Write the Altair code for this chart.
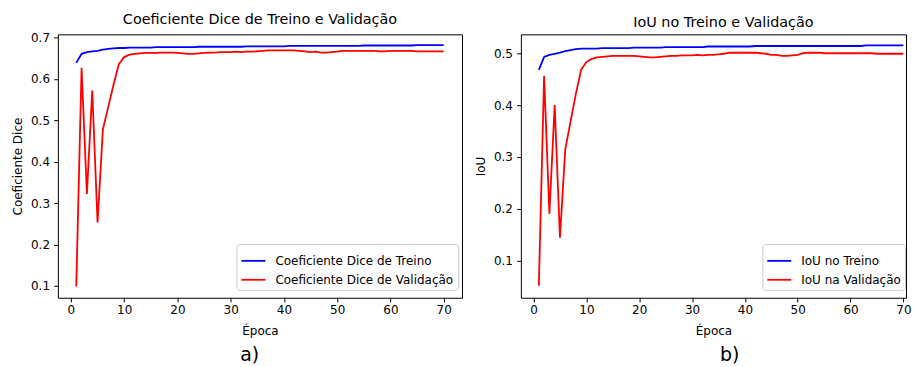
import altair as alt
import pandas as pd

epochs = list(range(1, 71))

dice_train = [
    0.639, 0.661, 0.665, 0.667, 0.668, 0.671, 0.673, 0.674, 0.675, 0.675,
    0.676, 0.676, 0.676, 0.676, 0.676, 0.677, 0.677, 0.677, 0.677, 0.677,
    0.677, 0.677, 0.677, 0.678, 0.678, 0.678, 0.678, 0.678, 0.678, 0.678,
    0.678, 0.678, 0.679, 0.679, 0.679, 0.679, 0.679, 0.679, 0.679, 0.679,
    0.680, 0.680, 0.680, 0.680, 0.680, 0.680, 0.680, 0.680, 0.680, 0.680,
    0.680, 0.680, 0.680, 0.680, 0.681, 0.681, 0.681, 0.681, 0.681, 0.681,
    0.681, 0.681, 0.681, 0.681, 0.682, 0.682, 0.682, 0.682, 0.682, 0.682,
]
dice_val = [
    0.098, 0.627, 0.322, 0.572, 0.253, 0.478, 0.532, 0.586, 0.636, 0.653,
    0.659, 0.661, 0.662, 0.663, 0.663, 0.663, 0.664, 0.664, 0.664, 0.663,
    0.662, 0.661, 0.661, 0.662, 0.663, 0.664, 0.664, 0.665, 0.665, 0.665,
    0.666, 0.665, 0.666, 0.666, 0.667, 0.668, 0.669, 0.669, 0.669, 0.669,
    0.669, 0.669, 0.668, 0.667, 0.665, 0.666, 0.664, 0.664, 0.665, 0.666,
    0.668, 0.668, 0.668, 0.668, 0.668, 0.668, 0.668, 0.667, 0.667, 0.668,
    0.668, 0.668, 0.668, 0.668, 0.667, 0.667, 0.667, 0.667, 0.667, 0.667,
]
iou_train = [
    0.468, 0.493, 0.497, 0.499, 0.501, 0.504, 0.506, 0.508, 0.509, 0.509,
    0.509, 0.509, 0.510, 0.510, 0.510, 0.510, 0.510, 0.510, 0.511, 0.511,
    0.511, 0.511, 0.511, 0.511, 0.512, 0.512, 0.512, 0.512, 0.512, 0.512,
    0.512, 0.512, 0.513, 0.513, 0.513, 0.513, 0.513, 0.513, 0.513, 0.513,
    0.513, 0.514, 0.514, 0.514, 0.514, 0.514, 0.514, 0.514, 0.514, 0.514,
    0.514, 0.514, 0.514, 0.514, 0.514, 0.514, 0.514, 0.514, 0.514, 0.514,
    0.514, 0.514, 0.515, 0.515, 0.515, 0.515, 0.515, 0.515, 0.515, 0.515,
]
iou_val = [
    0.051, 0.456, 0.190, 0.400, 0.144, 0.314, 0.368, 0.421, 0.468, 0.483,
    0.489, 0.492, 0.493, 0.494, 0.495, 0.495, 0.495, 0.495, 0.495, 0.494,
    0.493, 0.492, 0.492, 0.493, 0.494, 0.495, 0.495, 0.496, 0.496, 0.496,
    0.497, 0.496, 0.497, 0.497, 0.498, 0.499, 0.501, 0.501, 0.501, 0.501,
    0.501, 0.501, 0.500, 0.499, 0.497, 0.497, 0.495, 0.495, 0.496, 0.497,
    0.500, 0.501, 0.501, 0.501, 0.500, 0.500, 0.500, 0.500, 0.500, 0.500,
    0.500, 0.500, 0.500, 0.500, 0.499, 0.499, 0.499, 0.499, 0.499, 0.499,
]

x_ticks = [0, 10, 20, 30, 40, 50, 60, 70]
dice_ticks = [0.1, 0.2, 0.3, 0.4, 0.5, 0.6, 0.7]
iou_ticks = [0.1, 0.2, 0.3, 0.4, 0.5]
dice_labels = ["Coeficiente Dice de Treino", "Coeficiente Dice de Validação"]
iou_labels = ["IoU no Treino", "IoU na Validação"]

FONT = "DejaVu Sans"


def long_df(train, val, labels):
    a = pd.DataFrame({"epoch": epochs, "value": train, "serie": labels[0]})
    b = pd.DataFrame({"epoch": epochs, "value": val, "serie": labels[1]})
    return pd.concat([a, b], ignore_index=True)


def panel(df, labels, title, ytitle, ydomain, yticks, tag, dx, width, xdomain,
          legend_x, legend_y, title_dx):
    line = alt.Chart(df).mark_line(strokeWidth=1.8, clip=True).encode(
        x=alt.X("epoch:Q",
                scale=alt.Scale(domain=xdomain, nice=False, zero=False),
                axis=alt.Axis(values=x_ticks, format="d", title="Época")),
        y=alt.Y("value:Q",
                scale=alt.Scale(domain=ydomain, nice=False, zero=False),
                axis=alt.Axis(values=yticks, format=".1f", title=ytitle)),
        color=alt.Color("serie:N",
                        scale=alt.Scale(domain=labels, range=["blue", "red"]),
                        legend=alt.Legend(title=None, orient="none",
                                          legendX=legend_x, legendY=legend_y,
                                          symbolType="stroke", symbolStrokeWidth=1.8,
                                          symbolSize=576, labelFontSize=12, labelFont=FONT,
                                          labelColor="black", labelOffset=9, labelLimit=0,
                                          fillColor="rgba(255,255,255,0.8)",
                                          strokeColor="#cccccc", cornerRadius=3,
                                          padding=4, rowPadding=-6)),
    ).properties(
        width=width, height=264,
        title=alt.Title(title, anchor="middle", frame="group", fontSize=14.4,
                        fontWeight="normal", offset=4, font=FONT, color="black",
                        dx=title_dx),
    )
    return alt.vconcat(
        line,
        title=alt.Title(tag, orient="bottom", anchor="middle", fontSize=19,
                        fontWeight="normal", dx=dx, offset=9, font=FONT, color="black"),
    ).resolve_scale(color="independent")


left = panel(long_df(dice_train, dice_val, dice_labels), dice_labels,
             "Coeficiente Dice de Treino e Validação", "Coeficiente Dice",
             [0.071, 0.708], dice_ticks, "a)", 13, 405, [-2.45, 73.45], 179, 210, 0)
right = panel(long_df(iou_train, iou_val, iou_labels), iou_labels,
              "IoU no Treino e Validação", "IoU",
              [0.028, 0.5365], iou_ticks, "b)", 37, 386, [-2.4, 70.5], 242, 210, 10)

chart = alt.hconcat(left, right, spacing=11).resolve_scale(
    color="independent"
).properties(
    padding={"left": 3, "top": 3, "right": 0, "bottom": 0}
).configure_view(
    stroke="black", strokeWidth=1
).configure_axis(
    grid=False, domain=False, tickColor="black", tickWidth=1, tickSize=4.2,
    labelFontSize=12, labelColor="black", labelFont=FONT, labelPadding=4.2,
    titleFont=FONT, titleFontSize=12, titleFontWeight="normal", titleColor="black",
).configure_axisY(
    titlePadding=6
).configure_axisX(
    titlePadding=10, labelPadding=3
)

chart.save("out.html", embed_options={"renderer": "svg", "actions": False})
